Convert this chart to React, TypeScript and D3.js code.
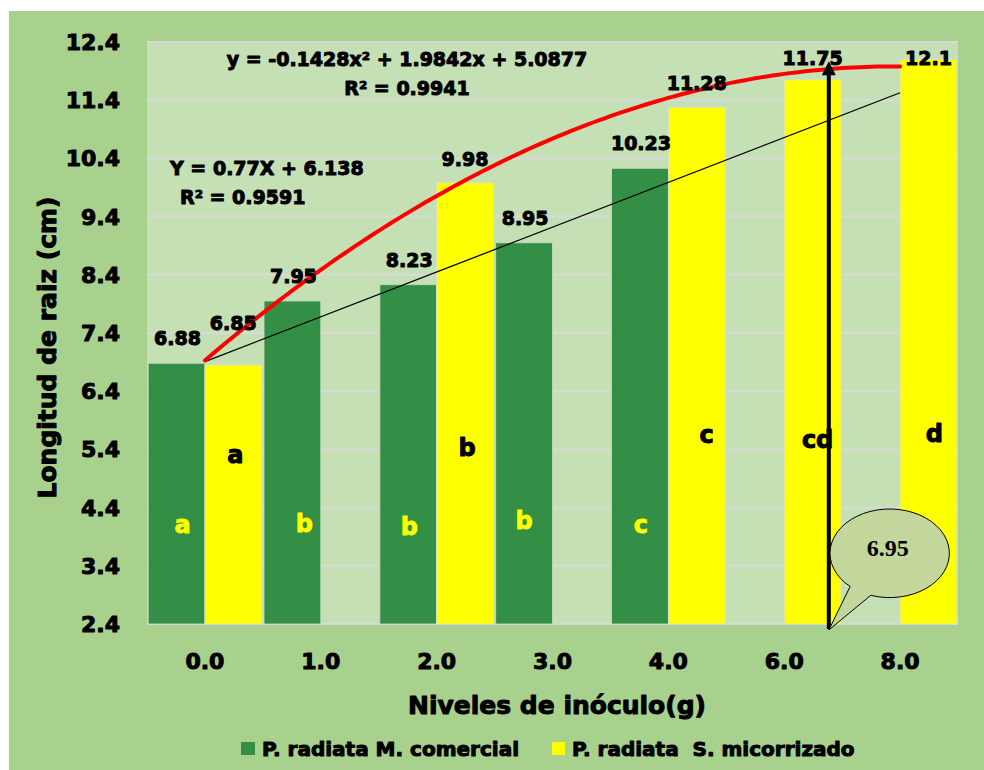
import React from "react";
import * as d3 from "d3";

const categories = ["0.0", "1.0", "2.0", "3.0", "4.0", "6.0", "8.0"];
const comercial: (number | null)[] = [6.88, 7.95, 8.23, 8.95, 10.23, null, null];
const micorrizado: (number | null)[] = [6.85, null, 9.98, null, 11.28, 11.75, 12.1];
const lettersComercial = ["a", "b", "b", "b", "c", "", ""];
const lettersMicorrizado = ["a", "", "b", "", "c", "cd", "d"];
const yTicks = [2.4, 3.4, 4.4, 5.4, 6.4, 7.4, 8.4, 9.4, 10.4, 11.4, 12.4];
const linCoef = [0.77, 6.138]; // Y = aX + b
const quadCoef = [-0.1428, 1.9842, 5.0877];
const seriesNames = ["P. radiata M. comercial", "P. radiata  S. micorrizado"];
const calloutText = "6.95";
const arrowXValue = 6.385;
const arrowTop = 12.07;

// layout constants
const W = 984, H = 770;
const PL = 147, PR = 958, PT = 42, PB = 624;
const GREEN = "#338f46", YELLOW = "#ffff00";
const OUTER_BG = "#a9d18e", PLOT_BG = "#c5e0b4", GRID = "#d9d9d9";
const FONT = "'DejaVu Sans', sans-serif";
// per-label layout tweaks (pixels)
const greenLetterDx = [6, 12, 1, 0, 1, 0, 0];
const greenLetterBase = [533, 532, 535, 529, 533, 0, 0];
const yellowLetterDx = [2, 0, 2, 0, 10, 5, 6];
const yellowLetterBase = [463, 0, 456, 0, 443, 448, 442];
const yellowLabelDy = [-42, 0, -24, 0, -24, -25, -24];

export default function App() {
  const x = d3.scaleBand<string>().domain(categories).range([PL, PR]).paddingInner(0.02).paddingOuter(0.01);
  const sub = d3.scaleBand<string>().domain(["c", "m"]).range([0, x.bandwidth()]);
  const y = d3.scaleLinear().domain([2.4, 12.4]).range([PB, PT]);
  const c0 = (x(categories[0]) as number) + x.bandwidth() / 2;
  const c6 = (x(categories[6]) as number) + x.bandwidth() / 2;
  const tx = d3.scaleLinear().domain([1, 7]).range([c0, c6]);
  const xs = d3.range(1, 7.001, 0.05);
  const lineGen = d3.line<number>().x((d) => tx(d)).y((d) => y(quadCoef[0] * d * d + quadCoef[1] * d + quadCoef[2]));
  const lin = (X: number) => linCoef[0] * X + linCoef[1];

  const bold = { fontFamily: FONT, fontWeight: 700 as const };
  const heavy = { ...bold, stroke: "#000", strokeWidth: 1, strokeLinejoin: "round" as const };

  // callout
  const cx = 889.7, cy = 553.3, rx = 59.7, ry = 44.3;
  const aA = (131.5 * Math.PI) / 180, aB = (108.5 * Math.PI) / 180;
  const Ax = cx + rx * Math.cos(aA), Ay = cy + ry * Math.sin(aA);
  const Bx = cx + rx * Math.cos(aB), By = cy + ry * Math.sin(aB);
  const arrowX = tx(arrowXValue);
  const tipX = arrowX, tipY = 630;
  const calloutPath = `M${Ax},${Ay} L${tipX},${tipY} L${Bx},${By} A${rx},${ry} 0 1 0 ${Ax},${Ay} Z`;
  const arrowTopY = y(arrowTop);

  const labelY = (v: number, dy: number) => Math.max(y(v) + dy, 58);

  return (
    <svg width={W} height={H} style={{ position: "absolute", left: 0, top: 0, display: "block" }}>
      <rect x={9} y={11} width={W - 9} height={H - 11} fill={OUTER_BG} />
      <rect x={PL} y={PT} width={PR - PL} height={PB - PT} fill={PLOT_BG} />
      {yTicks.map((t) => (
        <line key={t} x1={PL} x2={PR} y1={y(t)} y2={y(t)} stroke={GRID} strokeWidth={2} />
      ))}
      {/* bars */}
      {categories.map((c, i) => (
        <g key={c}>
          {comercial[i] != null && (
            <rect x={(x(c) as number) + (sub("c") as number)} y={y(comercial[i] as number)}
              width={sub.bandwidth()} height={PB - y(comercial[i] as number)} fill={GREEN} stroke="#cfd9c6" strokeWidth={0.8} />
          )}
          {micorrizado[i] != null && (
            <rect x={(x(c) as number) + (sub("m") as number)} y={y(micorrizado[i] as number)}
              width={sub.bandwidth()} height={PB - y(micorrizado[i] as number)} fill={YELLOW} stroke="#dadada" strokeWidth={0.8} />
          )}
        </g>
      ))}
      {/* significance letters */}
      {categories.map((c, i) => (
        <g key={"l" + c}>
          {lettersComercial[i] && (
            <text x={(x(c) as number) + (sub("c") as number) + sub.bandwidth() / 2 + greenLetterDx[i]} y={greenLetterBase[i]}
              textAnchor="middle" fontSize={24} fill="#ffff00" {...bold} stroke="#ffff00" strokeWidth={0.8}>{lettersComercial[i]}</text>
          )}
          {lettersMicorrizado[i] && (
            <text x={(x(c) as number) + (sub("m") as number) + sub.bandwidth() / 2 + yellowLetterDx[i]} y={yellowLetterBase[i]}
              textAnchor="middle" fontSize={24} fill="#000" {...heavy}>{lettersMicorrizado[i]}</text>
          )}
        </g>
      ))}
      {/* trend lines */}
      <line x1={tx(1)} y1={y(lin(1))} x2={tx(7)} y2={y(lin(7))} stroke="#000" strokeWidth={1.3} />
      <path d={lineGen(xs) as string} fill="none" stroke="#ff0000" strokeWidth={4} strokeLinecap="round" />
      {/* data labels */}
      {categories.map((c, i) => (
        <g key={"d" + c}>
          {comercial[i] != null && (
            <text x={(x(c) as number) + (sub("c") as number) + sub.bandwidth() / 2 + 1} y={labelY(comercial[i] as number, -25)}
              dy="0.36em" textAnchor="middle" fontSize={19} fill="#000" {...heavy}>{String(comercial[i])}</text>
          )}
          {micorrizado[i] != null && (
            <text x={(x(c) as number) + (sub("m") as number) + sub.bandwidth() / 2} y={labelY(micorrizado[i] as number, yellowLabelDy[i])}
              dy="0.36em" textAnchor="middle" fontSize={19} fill="#000" {...heavy}>{String(micorrizado[i])}</text>
          )}
        </g>
      ))}
      {/* equations */}
      <g fontSize={19} fill="#000" {...heavy}>
        <text x={407} y={59} dy="0.36em" textAnchor="middle">{`y = ${quadCoef[0]}x² + ${quadCoef[1]}x + ${quadCoef[2]}`}</text>
        <text x={407} y={88.5} dy="0.36em" textAnchor="middle">R² = 0.9941</text>
        <text x={170} y={168} dy="0.36em" textAnchor="start">{`Y = ${linCoef[0]}X + ${linCoef[1]}`}</text>
        <text x={180} y={197} dy="0.36em" textAnchor="start">R² = 0.9591</text>
      </g>
      {/* arrow */}
      <line x1={arrowX} x2={arrowX} y1={629} y2={arrowTopY + 12} stroke="#000" strokeWidth={4} />
      <path d={`M${arrowX},${arrowTopY} L${arrowX - 7},${arrowTopY + 14} L${arrowX + 7},${arrowTopY + 14} Z`} fill="#000" />
      {/* callout */}
      <path d={calloutPath} fill="#c3d69b" stroke="#000" strokeWidth={1} />
      <text x={887.7} y={548} dy="0.35em" textAnchor="middle" fontFamily="'Liberation Serif', serif" fontWeight={700} fontSize={24} fill="#000">{calloutText}</text>
      {/* axes labels */}
      {yTicks.map((t) => (
        <text key={"yt" + t} x={120} y={y(t)} dy="0.36em" textAnchor="end" fontSize={22} fill="#000" {...heavy}>{t.toFixed(1)}</text>
      ))}
      {categories.map((c) => (
        <text key={"xt" + c} x={(x(c) as number) + x.bandwidth() / 2} y={661} dy="0.36em" textAnchor="middle" fontSize={22} fill="#000" {...heavy}>{c}</text>
      ))}
      <text transform="translate(47,347.5) rotate(-90)" dy="0.36em" textAnchor="middle" fontSize={25} fill="#000" {...heavy}>Longitud de raiz (cm)</text>
      <text x={557} y={705} dy="0.36em" textAnchor="middle" fontSize={25} fill="#000" {...heavy}>Niveles de inóculo(g)</text>
      {/* legend */}
      <rect x={241} y={742} width={14} height={13} fill={GREEN} />
      <text x={262} y={748.5} dy="0.36em" fontSize={20} fill="#000" {...heavy} style={{ whiteSpace: "pre" }}>{seriesNames[0]}</text>
      <rect x={552} y={742} width={13} height={13} fill={YELLOW} />
      <text x={572} y={748.5} dy="0.36em" fontSize={20} fill="#000" {...heavy} style={{ whiteSpace: "pre" }}>{seriesNames[1]}</text>
    </svg>
  );
}
